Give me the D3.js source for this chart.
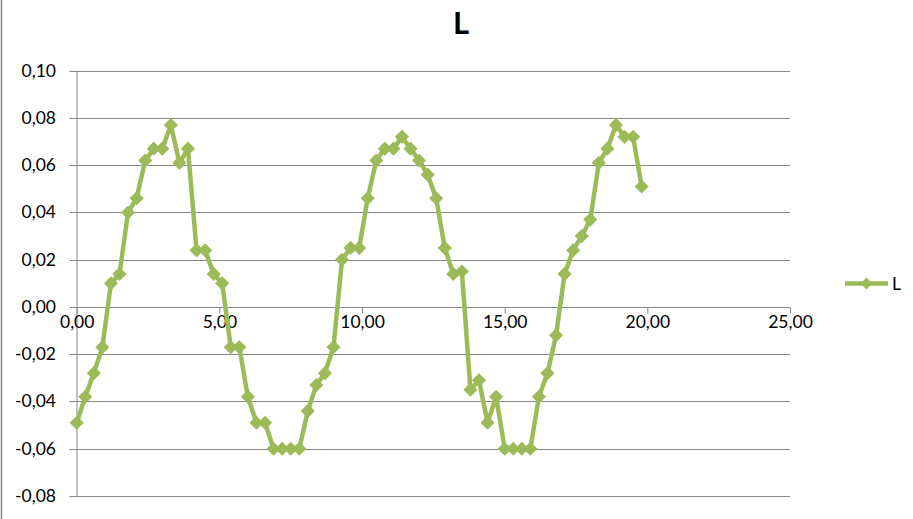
<!DOCTYPE html>
<html><head><meta charset="utf-8">
<script src="https://cdn.jsdelivr.net/npm/d3@7"></script>
<style>
html,body{margin:0;padding:0;background:#fff;}
svg{display:block;font-family:Lato,"Open Sans",sans-serif;}
</style></head>
<body>
<svg id="c" width="913" height="519"></svg>
<script>
const title = "L";
const seriesName = "L";
const xValues = [0.0,0.3,0.6,0.9,1.2,1.5,1.8,2.1,2.4,2.7,3.0,3.3,3.6,3.9,4.2,4.5,4.8,5.1,5.4,5.7,
  6.0,6.3,6.6,6.9,7.2,7.5,7.8,8.1,8.4,8.7,9.0,9.3,9.6,9.9,10.2,10.5,10.8,11.1,11.4,11.7,
  12.0,12.3,12.6,12.9,13.2,13.5,13.8,14.1,14.4,14.7,15.0,15.3,15.6,15.9,16.2,16.5,16.8,17.1,17.4,17.7,
  18.0,18.3,18.6,18.9,19.2,19.5,19.8];
const lValues = [-0.049,-0.038,-0.028,-0.017,0.010,0.014,0.040,0.046,0.062,0.067,0.067,0.077,0.061,0.067,0.024,0.024,0.014,0.010,-0.017,-0.017,
  -0.038,-0.049,-0.049,-0.060,-0.060,-0.060,-0.060,-0.044,-0.033,-0.028,-0.017,0.020,0.025,0.025,0.046,0.062,0.067,0.067,0.072,0.067,
  0.062,0.056,0.046,0.025,0.014,0.015,-0.035,-0.031,-0.049,-0.038,-0.060,-0.060,-0.060,-0.060,-0.038,-0.028,-0.012,0.014,0.024,0.030,
  0.037,0.061,0.067,0.077,0.072,0.072,0.051];
const xTicks = [0,5,10,15,20,25];
const yTicks = [-0.08,-0.06,-0.04,-0.02,0,0.02,0.04,0.06,0.08,0.10];

const data = xValues.map((x,i)=>({x, y:lValues[i]}));
const color = "#9BBB59", grid = "#868686";
const svg = d3.select("#c");
const x = d3.scaleLinear().domain([0,25]).range([76.7,790]);
const y = d3.scaleLinear().domain([-0.08,0.10]).range([496,70.7]);
const loc = d3.formatLocale({decimal:",", thousands:".", grouping:[3], currency:["",""], minus:"-"});
const fmt = loc.format(".2f");

// left border
svg.append("line").attr("x1",1.5).attr("x2",1.5).attr("y1",0).attr("y2",519)
  .attr("stroke",grid).attr("stroke-width",1.5);

// gridlines + y labels
const gy = svg.append("g");
gy.selectAll("line").data(yTicks).join("line")
  .attr("x1",69.3).attr("x2",790)
  .attr("y1",d=>Math.round(y(d))+0.5).attr("y2",d=>Math.round(y(d))+0.5)
  .attr("stroke",grid).attr("stroke-width",1);
gy.selectAll("text").data(yTicks).join("text")
  .attr("x",56).attr("y",d=>y(d)+6)
  .attr("text-anchor","end").attr("font-size",17.5).attr("fill","#000")
  .text(d=>fmt(d));

// y axis line
svg.append("line").attr("x1",77).attr("x2",77).attr("y1",y(0.10)).attr("y2",y(-0.08))
  .attr("stroke",grid).attr("stroke-width",1);

// x axis at y=0
const xAxis = d3.axisBottom(x).tickValues(xTicks).tickSize(6).tickFormat(fmt);
const gx = svg.append("g").attr("transform",`translate(0,${Math.round(y(0))+0.5})`).call(xAxis);
gx.select(".domain").remove();
gx.selectAll(".tick line").attr("stroke",grid);
gx.selectAll(".tick text").attr("font-size",17.5).attr("font-family","Lato,'Open Sans',sans-serif")
  .attr("fill","#000").attr("y",20).attr("dy",0);

// line
const line = d3.line().x(d=>x(d.x)).y(d=>y(d.y));
svg.append("path").datum(data).attr("d",line).attr("fill","none")
  .attr("stroke",color).attr("stroke-width",4.5).attr("stroke-linejoin","round");
const sym = d3.symbol(d3.symbolSquare, 100);
svg.append("g").selectAll("path").data(data).join("path")
  .attr("d",sym).attr("fill",color)
  .attr("transform",d=>`translate(${x(d.x)},${y(d.y)}) rotate(45)`);

// title
svg.append("text").attr("x",461).attr("y",34).attr("text-anchor","middle")
  .attr("font-size",31).attr("font-weight","bold").attr("fill","#000").text(title);

// legend
const lg = svg.append("g").attr("transform","translate(845,283.5)");
lg.append("line").attr("x1",0).attr("x2",43).attr("stroke",color).attr("stroke-width",4.5);
lg.append("path").attr("d",d3.symbol(d3.symbolSquare,70)()).attr("fill",color)
  .attr("transform","translate(21.5,0) rotate(45)");
lg.append("text").attr("x",47).attr("y",6).attr("font-size",17.5).attr("fill","#000").text(seriesName);
</script>
</body></html>
